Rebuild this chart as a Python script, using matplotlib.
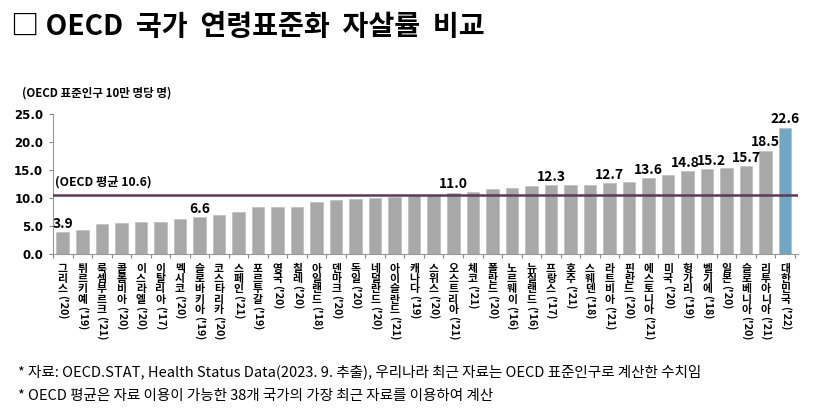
import matplotlib
matplotlib.use("Agg")
import matplotlib.pyplot as plt

plt.rcParams['font.family'] = ['Noto Sans CJK KR', 'DejaVu Sans']

# 국가명 / 기준연도 / 자살률 (OECD 표준인구 10만 명당)
countries = ['그리스', '튀르키예', '룩셈부르크', '콜롬비아', '이스라엘', '이탈리아', '멕시코',
             '슬로바키아', '코스타리카', '스페인', '포르투갈', '영국', '칠레', '아일랜드',
             '덴마크', '독일', '네덜란드', '아이슬란드', '캐나다', '스위스', '오스트리아',
             '체코', '폴란드', '노르웨이', '뉴질랜드', '프랑스', '호주', '스웨덴', '라트비아',
             '핀란드', '에스토니아', '미국', '헝가리', '벨기에', '일본', '슬로베니아',
             '리투아니아', '대한민국']
years = ['20', '19', '21', '20', '20', '17', '20', '19', '20', '21', '19', '20', '20', '18',
         '20', '20', '20', '21', '19', '20', '21', '21', '20', '16', '16', '17', '21', '18',
         '21', '20', '21', '20', '19', '18', '20', '20', '21', '22']
rates = [3.9, 4.4, 5.4, 5.5, 5.7, 5.8, 6.3, 6.6, 7.0, 7.6, 8.4, 8.4, 8.4, 9.3,
         9.6, 9.8, 10.0, 10.2, 10.5, 10.6, 11.0, 11.1, 11.6, 11.9, 12.1, 12.3, 12.4, 12.4,
         12.7, 12.9, 13.6, 14.2, 14.8, 15.2, 15.4, 15.7, 18.5, 22.6]
labeled = ['그리스', '슬로바키아', '오스트리아', '프랑스', '라트비아', '에스토니아',
           '헝가리', '벨기에', '슬로베니아', '리투아니아', '대한민국']
oecd_avg = 10.6

fig = plt.figure(figsize=(8.15, 4.12), dpi=100)
ax = fig.add_axes([0.065, 0.383, 0.914, 0.340])

x = range(len(countries))
colors = ['#71a7c2' if c == '대한민국' else '#a8a8a8' for c in countries]
ax.bar(x, rates, width=0.64, color=colors, edgecolor='#bdbdbd', linewidth=0.5, zorder=2)

ax.axhline(oecd_avg, color='#5a3a5c', linewidth=1.8, zorder=3)
ax.text(0.003, oecd_avg + 1.2, '(OECD 평균 10.6)', transform=ax.get_yaxis_transform(),
        fontsize=8.8, fontweight='bold', va='bottom', ha='left')

# 라벨 겹침 방지용 좌우 이동
nudge = {'헝가리': -0.1, '벨기에': 0.22}
for i, (c, v) in enumerate(zip(countries, rates)):
    if c in labeled:
        ax.text(i + nudge.get(c, 0), v + 0.2, f'{v:.1f}', ha='center', va='bottom',
                fontsize=10, fontweight='bold',
                family=['Liberation Sans Narrow', 'Noto Sans CJK KR'])

ax.set_xlim(-0.5, len(countries) - 0.35)
ax.set_ylim(0, 25)
ax.set_yticks([0, 5, 10, 15, 20, 25])
ax.set_yticklabels([f'{t:.1f}' for t in [0, 5, 10, 15, 20, 25]],
                   fontsize=8.5, fontweight='bold', family='DejaVu Sans')
ax.set_xticks([i - 0.5 for i in range(len(countries) + 1)])
ax.set_xticklabels([])
ax.tick_params(axis='both', direction='out', length=3, color='#888888', width=0.8)
ax.tick_params(axis='y', pad=4)
for s in ['top', 'right']:
    ax.spines[s].set_visible(False)
for s in ['left', 'bottom']:
    ax.spines[s].set_color('#999999')

# 세로 쓰기 국가명 라벨
step = 7.4
trans = ax.get_xaxis_transform()
for i, (c, y) in enumerate(zip(countries, years)):
    for k, ch in enumerate(c):
        ax.annotate(ch, xy=(i, 0), xycoords=trans, xytext=(0, -7 - k * step),
                    textcoords='offset points', ha='center', va='top',
                    fontsize=7.8, fontweight='bold')
    ax.annotate(f"('{y})", xy=(i, 0), xycoords=trans,
                xytext=(0, -7.5 - len(c) * step), textcoords='offset points',
                ha='center', va='top', rotation=-90,
                fontsize=7.8, fontweight='bold')

fig.text(0.027, 0.773, '(OECD 표준인구 10만 명당 명)', fontsize=8.3, fontweight='bold',
         va='center', ha='left')

fig.text(0.013, 0.935, '□ OECD  국가  연령표준화  자살률  비교', fontsize=20.3,
         fontweight='bold', va='center', ha='left')

fig.text(0.022, 0.097, '* 자료: OECD.STAT, Health Status Data(2023. 9. 추출), 우리나라 최근 자료는 OECD 표준인구로 계산한 수치임',
         fontsize=10.5, va='center', ha='left')
fig.text(0.022, 0.04, '* OECD 평균은 자료 이용이 가능한 38개 국가의 가장 최근 자료를 이용하여 계산',
         fontsize=10.5, va='center', ha='left')

fig.savefig('out.png', dpi=100)
